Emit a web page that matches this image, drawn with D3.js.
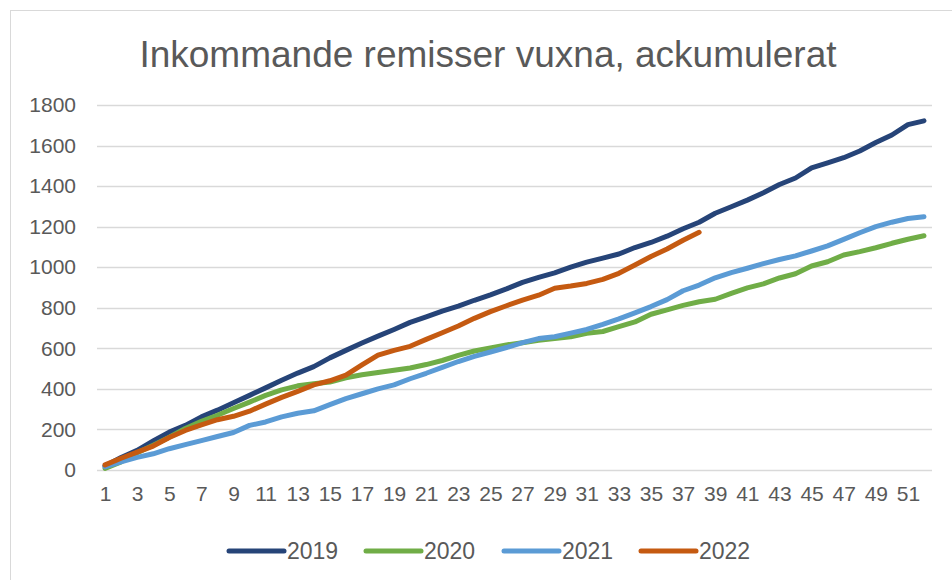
<!DOCTYPE html>
<html><head><meta charset="utf-8">
<script src="https://cdn.jsdelivr.net/npm/d3@7"></script>
<style>
html,body{margin:0;padding:0;background:#fff;}
svg{display:block;font-family:"Liberation Sans",Arial,sans-serif;}
</style></head>
<body><svg id="c" width="952" height="580"></svg>
<script>
const title = "Inkommande remisser vuxna, ackumulerat";
const weeks = d3.range(1, 53);
const yTicks = [0,200,400,600,800,1000,1200,1400,1600,1800];
const seriesNames = ["2019","2020","2021","2022"];
const seriesColors = ["#264478","#70AD47","#5B9BD5","#C55A11"];
const v2019 = [20,62,97,143,187,220,262,295,332,368,405,443,478,510,553,590,626,660,693,728,755,783,808,837,864,893,925,950,972,1000,1025,1045,1065,1097,1122,1153,1190,1222,1266,1298,1331,1367,1408,1440,1490,1515,1540,1573,1615,1652,1703,1722];
const v2020 = [8,40,85,122,162,205,240,270,303,335,368,395,415,425,434,455,470,481,492,503,520,540,565,587,602,617,628,640,649,657,674,683,707,730,768,790,812,830,842,871,898,918,947,968,1006,1027,1060,1077,1096,1118,1138,1155];
const v2021 = [16,40,62,80,105,125,145,165,185,220,237,262,280,292,322,352,376,400,420,450,477,506,535,560,582,604,628,648,657,675,693,718,745,775,806,840,884,912,948,973,995,1018,1038,1056,1080,1105,1137,1170,1200,1222,1240,1249];
const v2022 = [25,58,88,118,160,195,222,248,265,290,325,358,388,420,440,468,518,566,590,610,644,677,710,748,781,810,838,862,896,907,920,940,970,1011,1053,1090,1133,1172];
const seriesValues = [v2019, v2020, v2021, v2022];

const svg = d3.select("#c");
const text = "#595959", grid = "#d9d9d9";

svg.append("rect").attr("x",10.5).attr("y",10.5).attr("width",1000).attr("height",1000)
  .attr("fill","none").attr("stroke",grid).attr("stroke-width",1);

const x = d3.scalePoint().domain(weeks).range([97,932]).padding(0.5);
const y = d3.scaleLinear().domain([0,1800]).range([470,105]);

svg.append("text").attr("x",488).attr("y",67).attr("text-anchor","middle")
  .attr("font-size",37).attr("fill",text).text(title);

svg.append("g").selectAll("line").data(yTicks).join("line")
  .attr("x1",97).attr("x2",932).attr("y1",d=>Math.round(y(d))+0.5).attr("y2",d=>Math.round(y(d))+0.5)
  .attr("stroke",grid).attr("stroke-width",1.5);

const yAxis = d3.axisLeft(y).tickValues(yTicks).tickFormat(d3.format("d")).tickSize(0).tickPadding(0);
const gy = svg.append("g").attr("transform","translate(76,0)").call(yAxis);
gy.select(".domain").remove();
gy.selectAll("text").attr("font-size",21).attr("fill",text).attr("font-family","Liberation Sans, Arial, sans-serif");

const xAxis = d3.axisBottom(x).tickValues(weeks.filter(w=>w%2===1)).tickFormat(d3.format("d")).tickSize(0).tickPadding(0);
const gx = svg.append("g").attr("transform","translate(0,486)").call(xAxis);
gx.select(".domain").remove();
gx.selectAll("text").attr("font-size",21).attr("fill",text).attr("font-family","Liberation Sans, Arial, sans-serif");

const line = d3.line().x((d,i)=>x(weeks[i])).y(d=>y(d));
svg.append("g").selectAll("path").data(seriesValues).join("path")
  .attr("d",d=>line(d)).attr("fill","none")
  .attr("stroke",(d,i)=>seriesColors[i]).attr("stroke-width",5)
  .attr("stroke-linejoin","round").attr("stroke-linecap","round");

const legX = [229,366,504,641];
const lg = svg.append("g").selectAll("g").data(seriesNames).join("g")
  .attr("transform",(d,i)=>`translate(${legX[i]},551)`);
lg.append("line").attr("x1",0).attr("x2",55).attr("y1",0).attr("y2",0)
  .attr("stroke",(d,i)=>seriesColors[i]).attr("stroke-width",5).attr("stroke-linecap","round");
lg.append("text").attr("x",58).attr("y",8).attr("font-size",23).attr("fill",text).text(d=>d);
</script></body></html>
